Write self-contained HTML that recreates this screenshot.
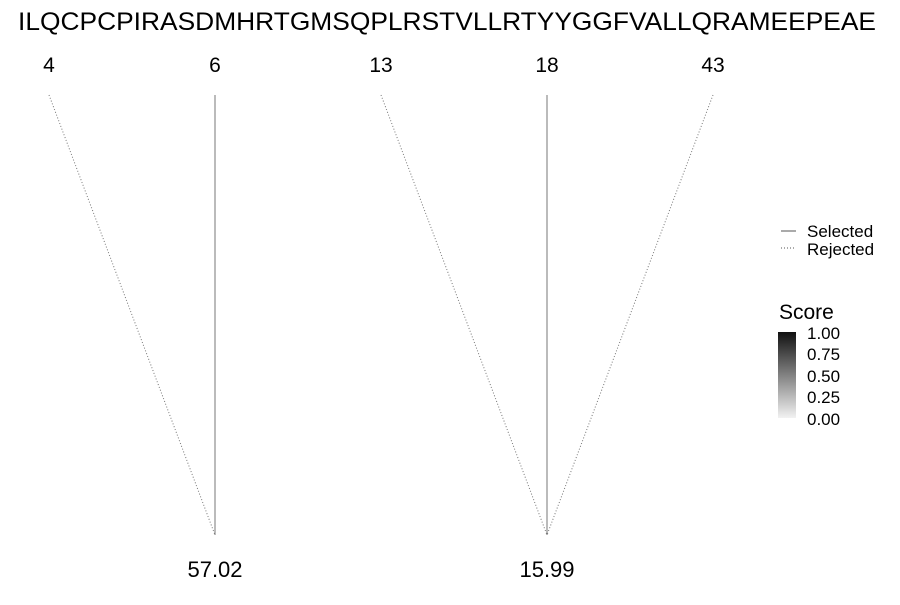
<!DOCTYPE html>
<html><head><meta charset="utf-8"><style>
body{margin:0;background:#fff;}
svg{font-family:"Liberation Sans",sans-serif;}
</style></head><body>
<svg width="900" height="600" xmlns="http://www.w3.org/2000/svg">
<defs><linearGradient id="g" x1="0" y1="1" x2="0" y2="0">
<stop offset="0" stop-color="#f2f2f2"/><stop offset="1" stop-color="#111"/></linearGradient></defs>
<text x="18" y="30" font-size="25" textLength="858" lengthAdjust="spacingAndGlyphs">ILQCPCPIRASDMHRTGMSQPLRSTVLLRTYYGGFVALLQRAMEEPEAE</text>
<g id="marks"></g>
<g>
<line x1="781" y1="231" x2="796" y2="231" stroke="#555" stroke-width="1"/>
<text x="807" y="237" font-size="17">Selected</text>
<line x1="781" y1="248" x2="796" y2="248" stroke="#555" stroke-width="1" stroke-dasharray="1,2"/>
<text x="807" y="255" font-size="17">Rejected</text>
</g>
<g>
<text x="779" y="319" font-size="21">Score</text>
<rect x="778" y="332" width="18" height="86" fill="url(#g)"/>
<g font-size="17">
<text x="807" y="339">1.00</text><text x="807" y="360">0.75</text><text x="807" y="382">0.50</text><text x="807" y="403">0.25</text><text x="807" y="425">0.00</text>
</g></g>
</svg>
<script>
const topLabels=["4","6","13","18","43"];
const selected=[false,true,false,true,false];
const targets=[1,1,3,3,3];
const bottomLabels=["","57.02","","15.99",""];
const xs=i=>49+i*166;
const g=document.getElementById('marks');
const ns='http://www.w3.org/2000/svg';
topLabels.forEach((t,i)=>{
 const tx=document.createElementNS(ns,'text');
 tx.setAttribute('x',xs(i));tx.setAttribute('y',72);tx.setAttribute('font-size','21');tx.setAttribute('text-anchor','middle');
 tx.textContent=t;
 
 
 g.appendChild(tx);
 const l=document.createElementNS(ns,'line');
 l.setAttribute('x1',xs(i));l.setAttribute('y1',95);l.setAttribute('x2',xs(targets[i]));l.setAttribute('y2',535);
 l.setAttribute('stroke','#777');l.setAttribute('stroke-width','1');
 if(!selected[i])l.setAttribute('stroke-dasharray','1,2');
 
 
 g.appendChild(l);
});
bottomLabels.forEach((t,i)=>{
 if(!t)return;
 const tx=document.createElementNS(ns,'text');
 tx.setAttribute('x',xs(i));tx.setAttribute('y',577);tx.setAttribute('font-size','22');tx.setAttribute('text-anchor','middle');
 tx.textContent=t;
 
 
 g.appendChild(tx);
});
</script>
</body></html>
